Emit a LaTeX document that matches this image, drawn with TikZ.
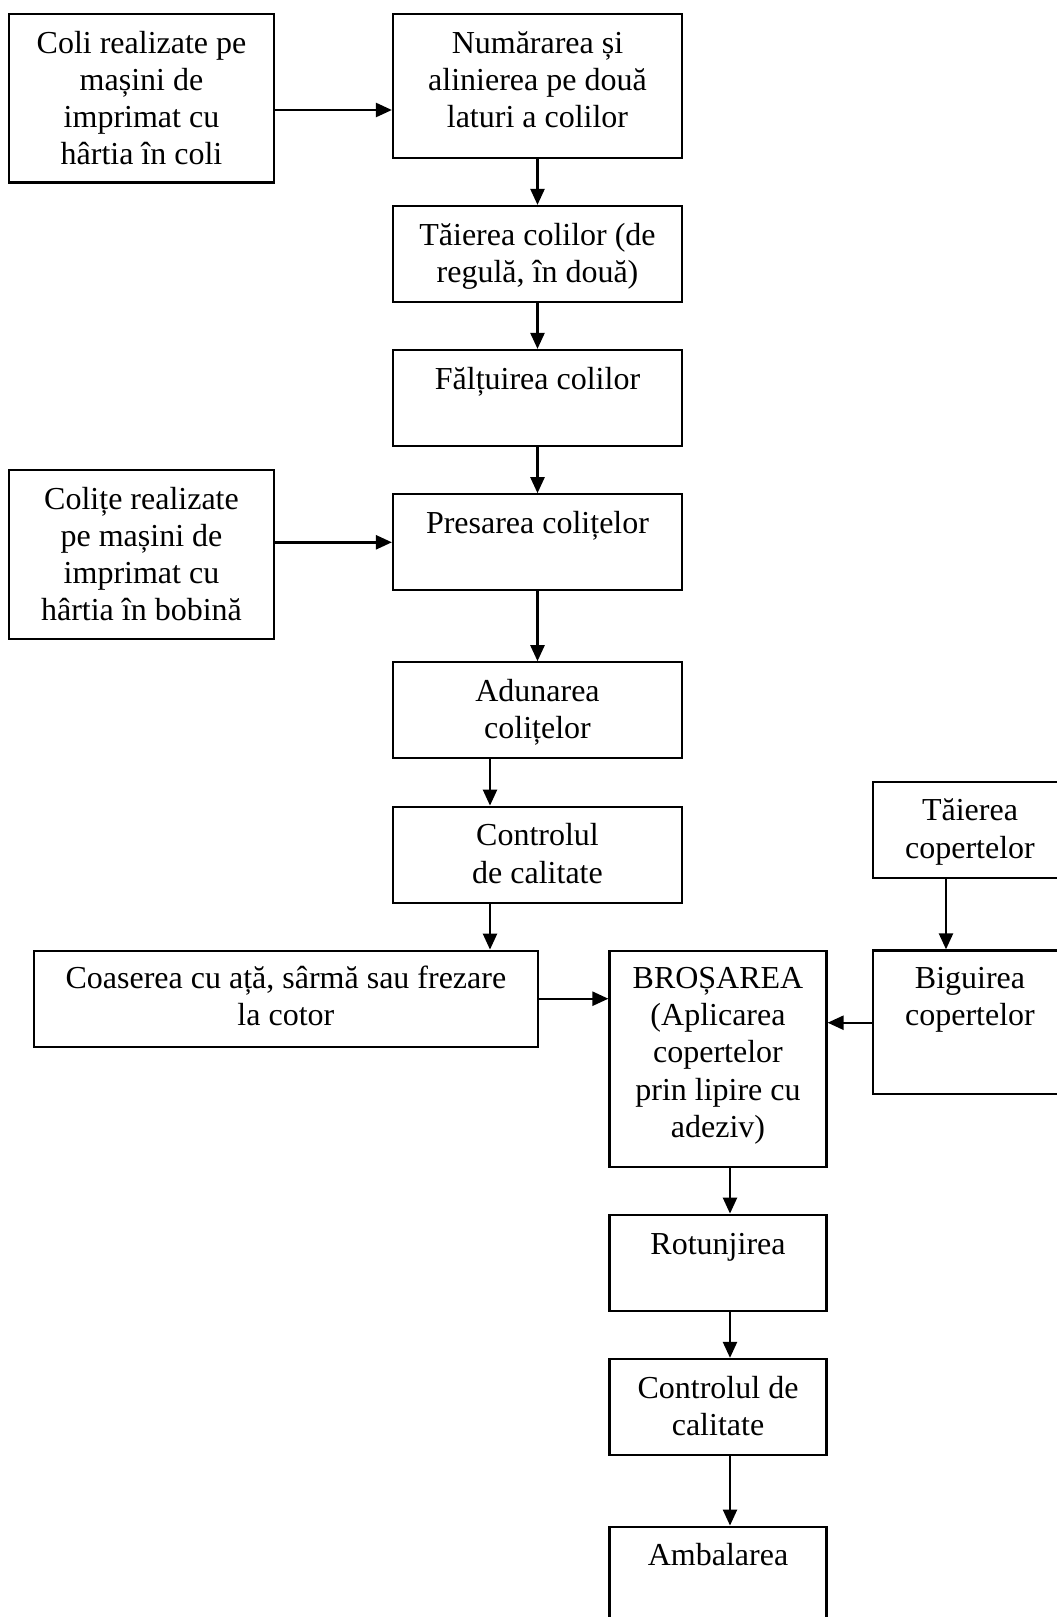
\documentclass[tikz,border=0pt]{standalone}
\usepackage{fontspec}
\setmainfont{Liberation Serif}
\usetikzlibrary{arrows.meta}
\begin{document}
\begin{tikzpicture}[x=1pt,y=-1pt,
  box/.style={draw, line width=2.2pt, inner sep=0pt, rectangle},
  txt/.style={align=center, inner sep=0pt, anchor=north, font=\fontsize{32}{37.3}\selectfont},
  arr/.style={line width=2.4pt, -{Triangle[length=16pt,width=14pt]}}]
\clip (0,0) rectangle (1057,1617);
\fill[white] (0,0) rectangle (1057,1617);
% boxes
\node[box, minimum width=265pt, minimum height=168.5pt] (A) at (141.5,98.2) {};
\node[box, minimum width=289pt, minimum height=144pt] (B) at (537.5,86) {};
\node[box, minimum width=289pt, minimum height=96pt] (C) at (537.5,254) {};
\node[box, minimum width=289pt, minimum height=96pt] (D) at (537.5,398) {};
\node[box, minimum width=265pt, minimum height=168.7pt] (E) at (141.5,554.3) {};
\node[box, minimum width=289pt, minimum height=96pt] (F) at (537.5,542.3) {};
\node[box, minimum width=289pt, minimum height=96pt] (G) at (537.5,710.3) {};
\node[box, minimum width=289pt, minimum height=96pt] (H) at (537.5,854.7) {};
\node[box, minimum width=504.3pt, minimum height=96pt] (I) at (285.9,998.7) {};
\node[box, minimum width=217pt, minimum height=216pt] (J) at (718,1058.7) {};
\node[box, minimum width=193.7pt, minimum height=95.4pt] (K) at (970,830) {};
\node[box, minimum width=193.7pt, minimum height=143.7pt] (L) at (970,1022.3) {};
\node[box, minimum width=217pt, minimum height=96pt] (M) at (718,1262.7) {};
\node[box, minimum width=217pt, minimum height=95.7pt] (N) at (718,1406.8) {};
\node[box, minimum width=217pt, minimum height=103.3pt] (O) at (718,1578.3) {};
% texts
\node[txt] (At) at ([yshift=-10pt]A.north) {\rule{0pt}{30pt}Coli realizate pe\\mașini de\\imprimat cu\\hârtia în coli};
\node[txt] (Bt) at ([yshift=-10pt]B.north) {\rule{0pt}{30pt}Numărarea și\\alinierea pe două\\laturi a colilor};
\node[txt] (Ct) at ([yshift=-10pt]C.north) {\rule{0pt}{30pt}Tăierea colilor (de\\regulă, în două)};
\node[txt] (Dt) at ([yshift=-10pt]D.north) {\rule{0pt}{30pt}Fălțuirea colilor};
\node[txt] (Et) at ([yshift=-10pt]E.north) {\rule{0pt}{30pt}Colițe realizate\\pe mașini de\\imprimat cu\\hârtia în bobină};
\node[txt] (Ft) at ([yshift=-10pt]F.north) {\rule{0pt}{30pt}Presarea colițelor};
\node[txt] (Gt) at ([yshift=-10pt]G.north) {\rule{0pt}{30pt}Adunarea\\colițelor};
\node[txt] (Ht) at ([yshift=-10pt]H.north) {\rule{0pt}{30pt}Controlul\\de calitate};
\node[txt] (It) at ([yshift=-10pt]I.north) {\rule{0pt}{28.5pt}Coaserea cu ață, sârmă sau frezare\\la cotor};
\node[txt] (Jt) at ([yshift=-10pt]J.north) {\rule{0pt}{28.5pt}BROȘAREA\\(Aplicarea\\copertelor\\prin lipire cu\\adeziv)};
\node[txt] (Kt) at ([yshift=-10pt]K.north) {\rule{0pt}{29.5pt}Tăierea\\copertelor};
\node[txt] (Lt) at ([yshift=-10pt]L.north) {\rule{0pt}{29pt}Biguirea\\copertelor};
\node[txt] (Mt) at ([yshift=-10pt]M.north) {\rule{0pt}{31pt}Rotunjirea};
\node[txt] (Nt) at ([yshift=-10pt]N.north) {\rule{0pt}{30pt}Controlul de\\calitate};
\node[txt] (Ot) at ([yshift=-10pt]O.north) {\rule{0pt}{30pt}Ambalarea};
% connectors
\draw[arr] ([yshift=-11.8pt]A.east) -- ([yshift=-11.8pt]A.east -| B.west);
\draw[arr] (B.south) -- (C.north);
\draw[arr] (C.south) -- (D.north);
\draw[arr] (D.south) -- (F.north);
\draw[arr] (E.east |- F.west) -- (F.west);
\draw[arr] (F.south) -- (G.north);
\draw[arr] ([xshift=-47.5pt]G.south) -- ([xshift=-47.5pt]G.south |- H.north);
\draw[arr] ([xshift=-47.5pt]H.south) -- ([xshift=-47.5pt]H.south |- I.north);
\draw[arr] (I.east) -- (I.east -| J.west);
\draw[arr] ([xshift=-24pt]K.south) -- ([xshift=-24pt]K.south |- L.north);
\draw[arr] ([yshift=-0.4pt]L.west) -- ([yshift=-0.4pt]L.west -| J.east);
\draw[arr] ([xshift=12pt]J.south) -- ([xshift=12pt]J.south |- M.north);
\draw[arr] ([xshift=12pt]M.south) -- ([xshift=12pt]M.south |- N.north);
\draw[arr] ([xshift=12pt]N.south) -- ([xshift=12pt]N.south |- O.north);
\end{tikzpicture}
\end{document}
